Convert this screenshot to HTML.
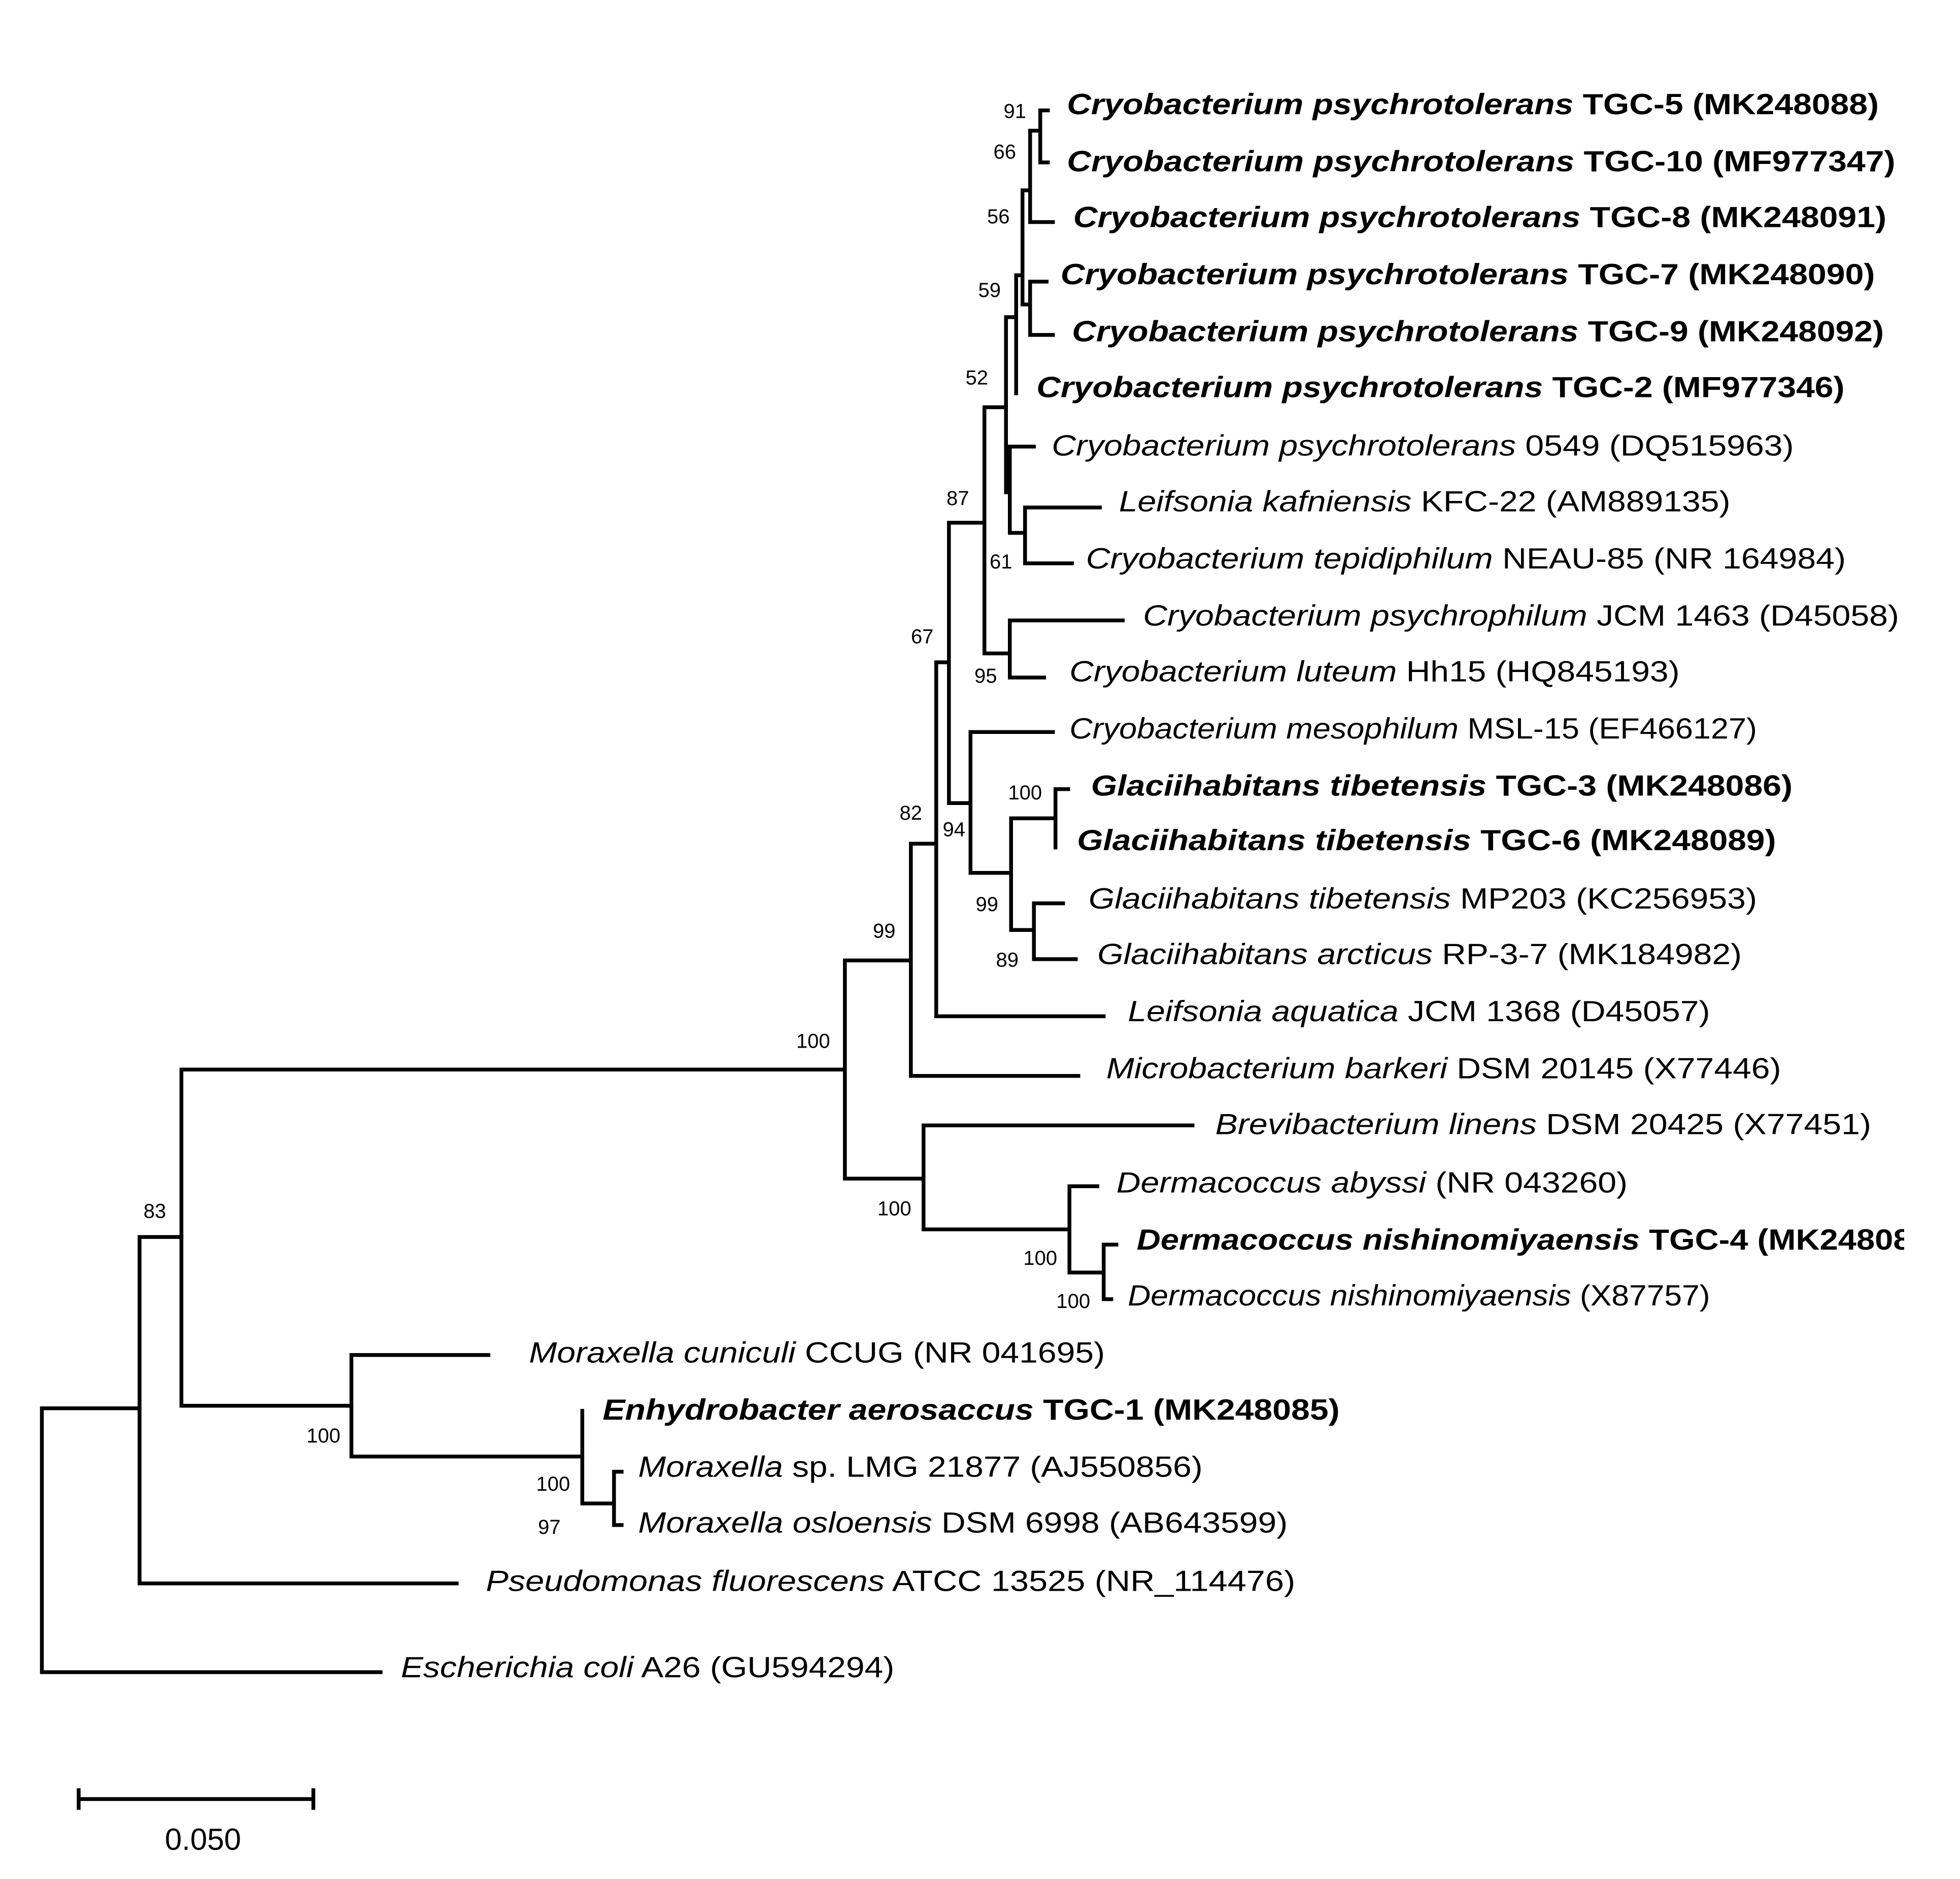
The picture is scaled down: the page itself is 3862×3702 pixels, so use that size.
<!DOCTYPE html>
<html><head><meta charset="utf-8"><style>
html,body{margin:0;padding:0;background:#fff;}
svg{display:block;}
text{font-family:"Liberation Sans",Arial,sans-serif;fill:#000;}
.t{font-size:23px;}
.b{font-size:16px;}
</style></head><body>
<svg width="3862" height="3702" viewBox="0 0 1545 1481" xmlns="http://www.w3.org/2000/svg">
<defs><clipPath id="c"><rect x="0" y="0" width="1501" height="1481"/></clipPath></defs>
<rect width="1545" height="1481" fill="#fff"/>
<g fill="none" stroke="#000" stroke-width="3" stroke-linecap="square">
<path d="M33 1110V1318H300M33 1110H110"/>
<path d="M110 975V1248H360M110 975H143"/>
<path d="M143 843V1108H277M143 843H666"/>
<path d="M277 1068V1148H459M277 1068H385"/>
<path d="M459 1112V1185H484"/>
<path d="M484 1160V1202H490M484 1160H490"/>
<path d="M666 757V929H728M666 757H718"/>
<path d="M728 887V969H843M728 887H940"/>
<path d="M843 935V1003H870M843 935H865"/>
<path d="M870 981V1024H876M870 981H880"/>
<path d="M718 665V848H850M718 665H738"/>
<path d="M738 522V801H870M738 522H748"/>
<path d="M748 412V633H765M748 412H776"/>
<path d="M765 577V688H797M765 577H830"/>
<path d="M797 645V733H815M797 645H832"/>
<path d="M832 622V668M832 622H842"/>
<path d="M815 712V756H848M815 712H838"/>
<path d="M776 321V515H796M776 321H793"/>
<path d="M796 489V534H823M796 489H885"/>
<path d="M793 250V388H796M793 250H801"/>
<path d="M796 352V420H808M796 352H815"/>
<path d="M808 400V444H845M808 400H867"/>
<path d="M801 217V310"/>
<path d="M801 217H806M806 150V240H812M806 150H812"/>
<path d="M812 222V264H830M812 222H825"/>
<path d="M812 103V175H830M812 103H820"/>
<path d="M820 87V128H826M820 87H826"/>
<path d="M62 1418H247M62 1411V1425M247 1411V1425"/>
</g>
<g class="t">
<text x="841" y="90" textLength="640" lengthAdjust="spacingAndGlyphs" font-weight="bold"><tspan font-style="italic">Cryobacterium psychrotolerans</tspan> TGC-5 (MK248088)</text>
<text x="841" y="135" textLength="653" lengthAdjust="spacingAndGlyphs" font-weight="bold"><tspan font-style="italic">Cryobacterium psychrotolerans</tspan> TGC-10 (MF977347)</text>
<text x="846" y="179" textLength="641" lengthAdjust="spacingAndGlyphs" font-weight="bold"><tspan font-style="italic">Cryobacterium psychrotolerans</tspan> TGC-8 (MK248091)</text>
<text x="836" y="224" textLength="642" lengthAdjust="spacingAndGlyphs" font-weight="bold"><tspan font-style="italic">Cryobacterium psychrotolerans</tspan> TGC-7 (MK248090)</text>
<text x="845" y="269" textLength="640" lengthAdjust="spacingAndGlyphs" font-weight="bold"><tspan font-style="italic">Cryobacterium psychrotolerans</tspan> TGC-9 (MK248092)</text>
<text x="817" y="313" textLength="637" lengthAdjust="spacingAndGlyphs" font-weight="bold"><tspan font-style="italic">Cryobacterium psychrotolerans</tspan> TGC-2 (MF977346)</text>
<text x="829" y="359" textLength="585" lengthAdjust="spacingAndGlyphs"><tspan font-style="italic">Cryobacterium psychrotolerans</tspan> 0549 (DQ515963)</text>
<text x="882" y="403" textLength="482" lengthAdjust="spacingAndGlyphs"><tspan font-style="italic">Leifsonia kafniensis</tspan> KFC-22 (AM889135)</text>
<text x="856" y="448" textLength="599" lengthAdjust="spacingAndGlyphs"><tspan font-style="italic">Cryobacterium tepidiphilum</tspan> NEAU-85 (NR 164984)</text>
<text x="901" y="493" textLength="596" lengthAdjust="spacingAndGlyphs"><tspan font-style="italic">Cryobacterium psychrophilum</tspan> JCM 1463 (D45058)</text>
<text x="843" y="537" textLength="481" lengthAdjust="spacingAndGlyphs"><tspan font-style="italic">Cryobacterium luteum</tspan> Hh15 (HQ845193)</text>
<text x="843" y="582" textLength="542" lengthAdjust="spacingAndGlyphs"><tspan font-style="italic">Cryobacterium mesophilum</tspan> MSL-15 (EF466127)</text>
<text x="860" y="627" textLength="553" lengthAdjust="spacingAndGlyphs" font-weight="bold"><tspan font-style="italic">Glaciihabitans tibetensis</tspan> TGC-3 (MK248086)</text>
<text x="849" y="670" textLength="551" lengthAdjust="spacingAndGlyphs" font-weight="bold"><tspan font-style="italic">Glaciihabitans tibetensis</tspan> TGC-6 (MK248089)</text>
<text x="858" y="716" textLength="527" lengthAdjust="spacingAndGlyphs"><tspan font-style="italic">Glaciihabitans tibetensis</tspan> MP203 (KC256953)</text>
<text x="865" y="760" textLength="508" lengthAdjust="spacingAndGlyphs"><tspan font-style="italic">Glaciihabitans arcticus</tspan> RP-3-7 (MK184982)</text>
<text x="889" y="805" textLength="459" lengthAdjust="spacingAndGlyphs"><tspan font-style="italic">Leifsonia aquatica</tspan> JCM 1368 (D45057)</text>
<text x="872" y="850" textLength="532" lengthAdjust="spacingAndGlyphs"><tspan font-style="italic">Microbacterium barkeri</tspan> DSM 20145 (X77446)</text>
<text x="958" y="894" textLength="517" lengthAdjust="spacingAndGlyphs"><tspan font-style="italic">Brevibacterium linens</tspan> DSM 20425 (X77451)</text>
<text x="880" y="940" textLength="403" lengthAdjust="spacingAndGlyphs"><tspan font-style="italic">Dermacoccus abyssi</tspan> (NR 043260)</text>
<g clip-path="url(#c)"><text x="896" y="985" textLength="634" lengthAdjust="spacingAndGlyphs" font-weight="bold"><tspan font-style="italic">Dermacoccus nishinomiyaensis</tspan> TGC-4 (MK248087)</text></g>
<text x="889" y="1029" textLength="459" lengthAdjust="spacingAndGlyphs"><tspan font-style="italic">Dermacoccus nishinomiyaensis</tspan> (X87757)</text>
<text x="417" y="1074" textLength="454" lengthAdjust="spacingAndGlyphs"><tspan font-style="italic">Moraxella cuniculi</tspan> CCUG (NR 041695)</text>
<text x="475" y="1119" textLength="581" lengthAdjust="spacingAndGlyphs" font-weight="bold"><tspan font-style="italic">Enhydrobacter aerosaccus</tspan> TGC-1 (MK248085)</text>
<text x="503" y="1164" textLength="445" lengthAdjust="spacingAndGlyphs"><tspan font-style="italic">Moraxella</tspan> sp. LMG 21877 (AJ550856)</text>
<text x="503" y="1208" textLength="512" lengthAdjust="spacingAndGlyphs"><tspan font-style="italic">Moraxella osloensis</tspan> DSM 6998 (AB643599)</text>
<text x="383" y="1254" textLength="638" lengthAdjust="spacingAndGlyphs"><tspan font-style="italic">Pseudomonas fluorescens</tspan> ATCC 13525 (NR_114476)</text>
<text x="316" y="1322" textLength="389" lengthAdjust="spacingAndGlyphs"><tspan font-style="italic">Escherichia coli</tspan> A26 (GU594294)</text>
<text x="160" y="1458" text-anchor="middle" style="font-size:24px">0.050</text>
</g>
<g class="b" text-anchor="middle">
<text x="800" y="93">91</text>
<text x="792" y="125">66</text>
<text x="787" y="176">56</text>
<text x="780" y="234">59</text>
<text x="770" y="303">52</text>
<text x="755" y="398">87</text>
<text x="789" y="448">61</text>
<text x="727" y="507">67</text>
<text x="777" y="538">95</text>
<text x="718" y="646">82</text>
<text x="752" y="659">94</text>
<text x="808" y="630">100</text>
<text x="778" y="718">99</text>
<text x="794" y="762">89</text>
<text x="697" y="739">99</text>
<text x="641" y="826">100</text>
<text x="705" y="958">100</text>
<text x="820" y="997">100</text>
<text x="846" y="1031">100</text>
<text x="122" y="960">83</text>
<text x="255" y="1137">100</text>
<text x="436" y="1175">100</text>
<text x="433" y="1209">97</text>
</g>
</svg>
</body></html>
